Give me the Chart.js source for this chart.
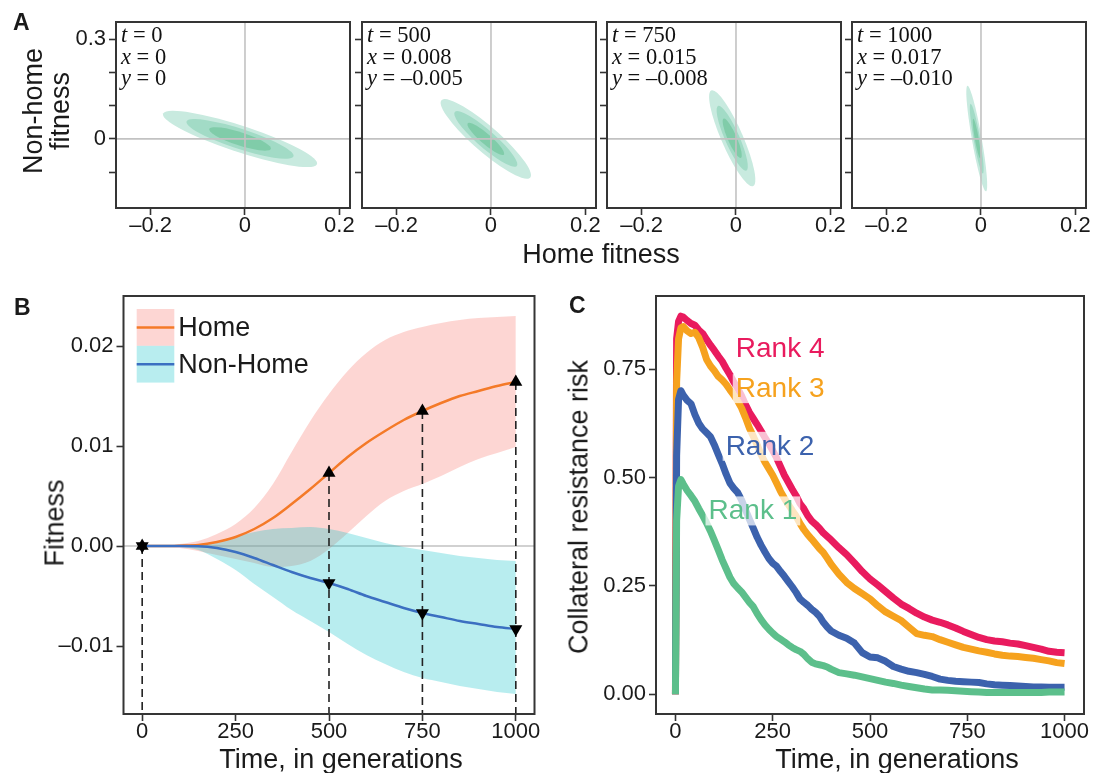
<!DOCTYPE html>
<html>
<head>
<meta charset="utf-8">
<script src="https://cdn.jsdelivr.net/npm/chart.js@4.4.1/dist/chart.umd.min.js"></script>
<style>
  html, body { margin: 0; background: #fff; }
  #page { position: relative; width: 1106px; height: 773px; overflow: hidden;
          font-family: 'Liberation Sans', Arial, sans-serif; color: #1a1a1a; }
  #page canvas { position: absolute; left: 0; top: 0; }
  .ttl { position: absolute; white-space: nowrap; font-size: 27px; line-height: 27px; }
  .rot { transform: translate(-50%, -50%) rotate(-90deg); text-align: center; }
  .mid { transform: translateX(-50%); }
  .tag { position: absolute; font-size: 23px; line-height: 23px; font-weight: bold; }
</style>
</head>
<body>
<div id="page">
  <canvas id="a0" width="1106" height="773"></canvas>
  <canvas id="a1" width="1106" height="773"></canvas>
  <canvas id="a2" width="1106" height="773"></canvas>
  <canvas id="a3" width="1106" height="773"></canvas>
  <canvas id="fitness" width="1106" height="773"></canvas>
  <canvas id="risk" width="1106" height="773"></canvas>

  <div class="tag" style="left:13px; top:11px">A</div>
  <div class="tag" style="left:14px; top:296px">B</div>
  <div class="tag" style="left:569px; top:294px">C</div>

  <div class="ttl rot" style="left:47px; top:111px; line-height:26.7px">Non-home<br>fitness</div>
  <div class="ttl mid" style="left:601px; top:241px">Home fitness</div>
  <div class="ttl rot" style="left:54.6px; top:523px">Fitness</div>
  <div class="ttl mid" style="left:341px; top:746px">Time, in generations</div>
  <div class="ttl rot" style="left:578.5px; top:507px">Collateral resistance risk</div>
  <div class="ttl mid" style="left:897px; top:746px">Time, in generations</div>
</div>

<script>
// ---- A: contours of mutational effects at four time points ----
const contourTimes = [0, 500, 750, 1000];
const homeText = ['0', '0.008', '0.015', '0.017'];
const nonHomeText = ['0', '\u20130.005', '\u20130.008', '\u20130.010'];
const contourCenterX = [-0.0105, -0.011, -0.008, -0.009];
const contourCenterY = [0, 0, 0.002, 0.001];
const contourAngle = [-25.5, -52, -73.3, -83];
// semi-axes of the outer, middle and inner contour
const contourMajor = [[0.180, 0.125, 0.072], [0.150, 0.105, 0.061], [0.151, 0.102, 0.062], [0.160, 0.106, 0.060]];
const contourMinor = [[0.038, 0.029, 0.019], [0.032, 0.022, 0.013], [0.0237, 0.016, 0.010], [0.0105, 0.007, 0.0042]];
const aTicksX = [-0.2, 0, 0.2];
const aLabelsX = ['\u20130.2', '0', '0.2'];
const aTicksY = [-0.1, 0, 0.1, 0.2, 0.3];
const aLabelsY = ['', '0', '', '', '0.3'];

// ---- B: mean fitness with ribbons ----
const bTime = [0, 50, 100, 150, 200, 250, 300, 350, 400, 450, 500, 550, 600, 650, 700, 750, 800, 850, 900, 950, 1000];
const home = [0, 0, 0.00003, 0.0001, 0.0004, 0.0009, 0.0017, 0.0028, 0.0042, 0.0057, 0.0073, 0.0089, 0.0103, 0.0115, 0.0126, 0.0135, 0.0143, 0.0150, 0.0155, 0.0160, 0.0164];
const homeUpper = [0, 0, 0.0002, 0.0005, 0.0012, 0.0022, 0.0038, 0.0062, 0.0094, 0.0125, 0.0152, 0.0175, 0.0193, 0.0206, 0.0214, 0.0219, 0.0223, 0.0226, 0.0228, 0.0229, 0.0230];
const homeLower = [0, 0, -0.0002, -0.0005, -0.0009, -0.0013, -0.0017, -0.0021, -0.0020, -0.0015, -0.0003, 0.0013, 0.0030, 0.0045, 0.0055, 0.0062, 0.0070, 0.0079, 0.0087, 0.0093, 0.0099];
const nonHome = [0, 0, 0, -0.00002, -0.0002, -0.0006, -0.0012, -0.0019, -0.0026, -0.0032, -0.0037, -0.0043, -0.0050, -0.0056, -0.0062, -0.0067, -0.0071, -0.0075, -0.0078, -0.0081, -0.0083];
const nonHomeUpper = [0, 0, 0.00005, 0.0001, 0.0003, 0.0009, 0.0014, 0.0017, 0.0018, 0.0019, 0.0017, 0.0013, 0.0008, 0.0003, -0.0001, -0.0004, -0.0007, -0.0010, -0.0012, -0.0014, -0.0015];
const nonHomeLower = [0, 0, -0.0001, -0.0004, -0.0013, -0.0024, -0.0038, -0.0051, -0.0064, -0.0075, -0.0086, -0.0098, -0.0109, -0.0118, -0.0126, -0.0132, -0.0136, -0.0140, -0.0143, -0.0146, -0.0148];
const markerTimes = [0, 500, 750, 1000];
const bTicksY = [-0.01, 0, 0.01, 0.02];
const bLabelsY = ['\u20130.01', '0.00', '0.01', '0.02'];
const timeTicks = [0, 250, 500, 750, 1000];
const timeLabels = ['0', '250', '500', '750', '1000'];

// ---- C: collateral resistance risk by rank ----
const cTime = [0, 3, 8, 14, 20, 30, 40, 50, 60, 70, 80, 90, 100, 110, 120, 130, 140, 150, 160, 170, 180, 190, 200,
  210, 220, 230, 240, 250, 260, 270, 280, 290, 300, 310, 320, 330, 340, 350, 360, 370, 380, 390, 400,
  420, 440, 460, 480, 500, 520, 540, 560, 580, 600, 620, 640, 660, 680, 700, 720, 740, 760, 780, 800,
  820, 840, 860, 880, 900, 920, 940, 960, 980, 1000];
const rank4 = [0, 0.82, 0.86, 0.872,
  0.870, 0.862, 0.855, 0.851, 0.840, 0.832, 0.818, 0.805, 0.793, 0.780,
  0.768, 0.752, 0.737, 0.720, 0.705, 0.688, 0.668, 0.650, 0.636, 0.622,
  0.607, 0.592, 0.578, 0.562, 0.545, 0.525, 0.505, 0.489, 0.473, 0.458,
  0.440, 0.428, 0.412, 0.400, 0.392, 0.383, 0.372, 0.364, 0.356,
  0.338, 0.322, 0.303, 0.283, 0.266, 0.252, 0.237, 0.222, 0.208, 0.198,
  0.187, 0.178, 0.171, 0.166, 0.160, 0.153, 0.145, 0.138, 0.131, 0.126,
  0.123, 0.121, 0.118, 0.116, 0.112, 0.108, 0.104, 0.099, 0.097, 0.096];
const rank3 = [0, 0.72, 0.82, 0.845,
  0.848, 0.838, 0.832, 0.835, 0.822, 0.800, 0.772, 0.757, 0.746, 0.733,
  0.725, 0.715, 0.702, 0.690, 0.676, 0.660, 0.638, 0.614, 0.595, 0.575,
  0.553, 0.535, 0.520, 0.505, 0.487, 0.468, 0.452, 0.438, 0.424, 0.411,
  0.394, 0.380, 0.368, 0.358, 0.347, 0.336, 0.327, 0.314, 0.300,
  0.277, 0.258, 0.244, 0.232, 0.220, 0.204, 0.190, 0.180, 0.170, 0.155,
  0.140, 0.136, 0.133, 0.126, 0.120, 0.114, 0.108, 0.104, 0.100, 0.097,
  0.093, 0.090, 0.088, 0.087, 0.085, 0.083, 0.080, 0.077, 0.073, 0.071];
const rank2 = [0, 0.55, 0.68, 0.700,
  0.690, 0.678, 0.670, 0.645, 0.625, 0.612, 0.603, 0.594, 0.575, 0.553,
  0.532, 0.508, 0.487, 0.475, 0.465, 0.448, 0.425, 0.404, 0.383, 0.362,
  0.344, 0.328, 0.313, 0.302, 0.295, 0.283, 0.272, 0.260, 0.248, 0.235,
  0.220, 0.212, 0.205, 0.196, 0.189, 0.180, 0.166, 0.155, 0.146,
  0.136, 0.129, 0.118, 0.096, 0.086, 0.084, 0.076, 0.064, 0.058, 0.053,
  0.050, 0.046, 0.041, 0.035, 0.032, 0.030, 0.029, 0.028, 0.027, 0.024,
  0.022, 0.021, 0.020, 0.019, 0.018, 0.017, 0.017, 0.016, 0.016, 0.016];
const rank1 = [0, 0.40, 0.48, 0.495,
  0.485, 0.470, 0.458, 0.445, 0.428, 0.412, 0.395, 0.376, 0.355, 0.333,
  0.310, 0.290, 0.270, 0.255, 0.245, 0.236, 0.224, 0.212, 0.202, 0.186,
  0.172, 0.160, 0.150, 0.141, 0.133, 0.127, 0.121, 0.114, 0.108, 0.103,
  0.099, 0.092, 0.082, 0.074, 0.070, 0.068, 0.066, 0.063, 0.058,
  0.050, 0.047, 0.044, 0.040, 0.036, 0.032, 0.028, 0.025, 0.021, 0.018,
  0.015, 0.012, 0.010, 0.010, 0.009, 0.008, 0.007, 0.006, 0.005, 0.004,
  0.004, 0.004, 0.004, 0.004, 0.004, 0.004, 0.004, 0.005, 0.005, 0.005];
const rankNames = ['Rank 1', 'Rank 2', 'Rank 3', 'Rank 4'];
const cTicksY = [0, 0.25, 0.5, 0.75];
const cLabelsY = ['0.00', '0.25', '0.50', '0.75'];

// ---- styling / layout ----
const W = 1106, H = 773;
const SANS = "'Liberation Sans', Arial, sans-serif";
const SERIF = "'Liberation Serif', 'Times New Roman', serif";
const contourFills = ['#c8eadf', '#a2dbc6', '#80cca9'];
const rankColors = ['#5cbf8b', '#3c62ad', '#f6a21e', '#e91b5e'];
const rankLabelAt = [[199, 0.424], [243, 0.573], [269, 0.706], [269, 0.798]];
const pinkFill = 'rgba(248, 118, 109, 0.3)';
const tealFill = 'rgba(0, 191, 196, 0.28)';
const homeColor = '#f47a28';
const nonHomeColor = '#3b6fc1';

Chart.defaults.font.family = SANS;
Chart.defaults.color = '#1a1a1a';
Chart.defaults.animation = false;
Chart.defaults.events = [];

const pts = (xs, ys) => xs.map((x, k) => ({ x: x, y: ys[k] }));

// chart area = box [left, top, right, bottom] on a full-page canvas
function padFor(box, yW, xH) {
  return { left: box[0] - yW, top: box[1], right: W - box[2], bottom: H - box[3] - xH };
}

function axis(pos, min, max, vals, text, size) {
  const horizontal = pos === 'bottom';
  return {
    type: 'linear', position: pos, min: min, max: max,
    afterBuildTicks: s => { s.ticks = vals.map(v => ({ value: v })); },
    afterFit: s => { if (horizontal) s.height = size; else s.width = size; },
    grid: { drawOnChartArea: false, drawTicks: true, tickLength: 7, tickColor: '#333', tickWidth: 1.6 },
    border: { display: false },
    ticks: {
      autoSkip: false, maxRotation: 0, minRotation: 0,
      padding: horizontal ? 0 : 3,
      font: { size: 22, lineHeight: 1 }, color: '#1a1a1a',
      callback: (v, i) => text[i]
    }
  };
}

// panel frame on all four sides
const frame = {
  id: 'frame',
  afterDraw(chart) {
    const { ctx, chartArea: a } = chart;
    ctx.save();
    ctx.strokeStyle = '#353535';
    ctx.lineWidth = 2;
    ctx.strokeRect(a.left, a.top, a.right - a.left, a.bottom - a.top);
    ctx.restore();
  }
};

const contour = {
  id: 'contour',
  beforeDatasetsDraw(chart, args, opts) {
    const i = opts.panel;
    const { ctx, chartArea: a, scales: { x, y } } = chart;
    const kx = x.getPixelForValue(1) - x.getPixelForValue(0);
    const ky = y.getPixelForValue(0) - y.getPixelForValue(1);
    ctx.save();
    ctx.beginPath();
    ctx.rect(a.left, a.top, a.right - a.left, a.bottom - a.top);
    ctx.clip();
    contourMajor[i].forEach((major, lvl) => {
      ctx.save();
      ctx.translate(x.getPixelForValue(contourCenterX[i]), y.getPixelForValue(contourCenterY[i]));
      ctx.scale(kx, -ky);
      ctx.rotate(contourAngle[i] * Math.PI / 180);
      ctx.beginPath();
      ctx.ellipse(0, 0, major, contourMinor[i][lvl], 0, 0, Math.PI * 2);
      ctx.restore();
      ctx.fillStyle = contourFills[lvl];
      ctx.fill();
    });
    // zero lines
    const x0 = x.getPixelForValue(0), y0 = y.getPixelForValue(0);
    ctx.strokeStyle = '#c2c2c2';
    ctx.lineWidth = 1.6;
    ctx.beginPath();
    ctx.moveTo(x0, a.top); ctx.lineTo(x0, a.bottom);
    ctx.moveTo(a.left, y0); ctx.lineTo(a.right, y0);
    ctx.stroke();
    // t, x, y annotation
    const rows = [['t', String(contourTimes[i])], ['x', homeText[i]], ['y', nonHomeText[i]]];
    ctx.fillStyle = '#111';
    ctx.textBaseline = 'alphabetic';
    rows.forEach((r, k) => {
      const tx = a.left + 5, ty = a.top + 20 + k * 21.7;
      ctx.font = 'italic 22.5px ' + SERIF;
      ctx.fillText(r[0], tx, ty);
      const w = ctx.measureText(r[0]).width;
      ctx.font = '22.5px ' + SERIF;
      ctx.fillText(' = ' + r[1], tx + w, ty);
    });
    ctx.restore();
  }
};

const aLeft = [116, 362, 607, 852];
aLeft.forEach((left, i) => {
  const yW = i === 0 ? 60 : 10;
  new Chart(document.getElementById('a' + i), {
    type: 'scatter',
    data: { datasets: [{ data: [{ x: contourCenterX[i], y: contourCenterY[i] }], pointRadius: 0 }] },
    options: {
      responsive: false, maintainAspectRatio: false, devicePixelRatio: 1,
      layout: { padding: padFor([left, 22, left + 234, 208], yW, 40) },
      plugins: { legend: { display: false }, tooltip: { enabled: false }, contour: { panel: i } },
      scales: {
        x: axis('bottom', -0.2733, 0.2225, aTicksX, aLabelsX, 40),
        y: axis('left', -0.208, 0.352, aTicksY, i === 0 ? aLabelsY : aTicksY.map(() => ''), yW)
      }
    },
    plugins: [contour, frame]
  });
});

// ---- B ----
const homeMarks = markerTimes.map(t => ({ x: t, y: home[bTime.indexOf(t)] }));
const nonHomeMarks = markerTimes.map(t => ({ x: t, y: nonHome[bTime.indexOf(t)] }));

const fitnessDecor = {
  id: 'fitnessDecor',
  beforeDatasetsDraw(chart) {
    const { ctx, chartArea: a, scales: { y } } = chart;
    const y0 = y.getPixelForValue(0);
    ctx.save();
    ctx.strokeStyle = '#c2c2c2';
    ctx.lineWidth = 1.6;
    ctx.beginPath();
    ctx.moveTo(a.left, y0); ctx.lineTo(a.right, y0);
    ctx.stroke();
    ctx.restore();
  },
  beforeDatasetDraw(chart, args) {
    if (args.index !== 6) return;
    const { ctx, chartArea: a, scales: { x, y } } = chart;
    ctx.save();
    ctx.strokeStyle = '#222';
    ctx.lineWidth = 1.6;
    ctx.setLineDash([8, 5]);
    homeMarks.forEach(m => {
      const px = x.getPixelForValue(m.x);
      ctx.beginPath();
      ctx.moveTo(px, y.getPixelForValue(m.y));
      ctx.lineTo(px, a.bottom);
      ctx.stroke();
    });
    ctx.restore();
  },
  afterDatasetsDraw(chart) {
    const { ctx, chartArea: a } = chart;
    const kx = a.left + 13.2, kw = 37.6, kh = 36.8;
    const keys = [['Home', pinkFill, homeColor], ['Non-Home', tealFill, nonHomeColor]];
    ctx.save();
    keys.forEach((k, n) => {
      const ky = a.top + 13 + n * kh;
      ctx.fillStyle = k[1];
      ctx.fillRect(kx, ky, kw, kh);
      ctx.strokeStyle = k[2];
      ctx.lineWidth = 2.5;
      ctx.beginPath();
      ctx.moveTo(kx, ky + kh / 2); ctx.lineTo(kx + kw, ky + kh / 2);
      ctx.stroke();
      ctx.fillStyle = '#1a1a1a';
      ctx.font = '27px ' + SANS;
      ctx.textBaseline = 'middle';
      ctx.fillText(k[0], kx + kw + 4, ky + kh / 2 + 1);
    });
    ctx.restore();
  }
};

const band = (ys, fill, order) => ({
  data: pts(bTime, ys), fill: fill ? '+1' : false, backgroundColor: fill || 'transparent',
  borderWidth: 0, pointRadius: 0, tension: 0.4, cubicInterpolationMode: 'monotone', order: order
});

new Chart(document.getElementById('fitness'), {
  type: 'line',
  data: {
    datasets: [
      band(homeUpper, pinkFill, 6),
      band(homeLower, null, 6),
      band(nonHomeUpper, tealFill, 5),
      band(nonHomeLower, null, 5),
      { label: 'Home', data: pts(bTime, home), borderColor: homeColor, borderWidth: 2.5, pointRadius: 0,
        cubicInterpolationMode: 'monotone', fill: false, order: 3 },
      { label: 'Non-Home', data: pts(bTime, nonHome), borderColor: nonHomeColor, borderWidth: 2.5, pointRadius: 0,
        cubicInterpolationMode: 'monotone', fill: false, order: 2 },
      { type: 'scatter', data: homeMarks, pointStyle: 'triangle', pointRadius: 7.5,
        backgroundColor: '#000', borderColor: '#000', borderWidth: 0, order: 1 },
      { type: 'scatter', data: nonHomeMarks, pointStyle: 'triangle', rotation: 180, pointRadius: 7.5,
        backgroundColor: '#000', borderColor: '#000', borderWidth: 0, order: 0 }
    ]
  },
  options: {
    responsive: false, maintainAspectRatio: false, devicePixelRatio: 1,
    layout: { padding: padFor([123.5, 296, 534.5, 714], 80, 40) },
    plugins: { legend: { display: false }, tooltip: { enabled: false } },
    scales: {
      x: axis('bottom', -50, 1050, timeTicks, timeLabels, 40),
      y: axis('left', -0.0168, 0.0250, bTicksY, bLabelsY, 80)
    }
  },
  plugins: [fitnessDecor, frame]
});

// ---- C ----
const rankTags = {
  id: 'rankTags',
  afterDatasetsDraw(chart) {
    const { ctx, scales: { x, y } } = chart;
    ctx.save();
    ctx.font = '28px ' + SANS;
    ctx.textAlign = 'center';
    ctx.textBaseline = 'middle';
    rankNames.forEach((name, i) => {
      const px = x.getPixelForValue(rankLabelAt[i][0]);
      const py = y.getPixelForValue(rankLabelAt[i][1]);
      const w = ctx.measureText(name).width;
      ctx.fillStyle = 'rgba(255, 255, 255, 0.72)';
      ctx.fillRect(px - w / 2 - 3, py - 14, w + 6, 29);
      ctx.fillStyle = rankColors[i];
      ctx.fillText(name, px, py + 1);
    });
    ctx.restore();
  }
};

const rankSeries = [rank1, rank2, rank3, rank4];
new Chart(document.getElementById('risk'), {
  type: 'line',
  data: {
    datasets: rankSeries.map((ys, i) => ({
      label: rankNames[i], data: pts(cTime, ys), borderColor: rankColors[i], borderWidth: 7,
      borderJoinStyle: 'round', pointRadius: 0, tension: 0, fill: false
    }))
  },
  options: {
    responsive: false, maintainAspectRatio: false, devicePixelRatio: 1,
    layout: { padding: padFor([656, 296, 1084, 714], 80, 40) },
    plugins: { legend: { display: false }, tooltip: { enabled: false } },
    scales: {
      x: axis('bottom', -50, 1050, timeTicks, timeLabels, 40),
      y: axis('left', -0.0455, 0.9185, cTicksY, cLabelsY, 80)
    }
  },
  plugins: [rankTags, frame]
});
</script>
</body>
</html>
